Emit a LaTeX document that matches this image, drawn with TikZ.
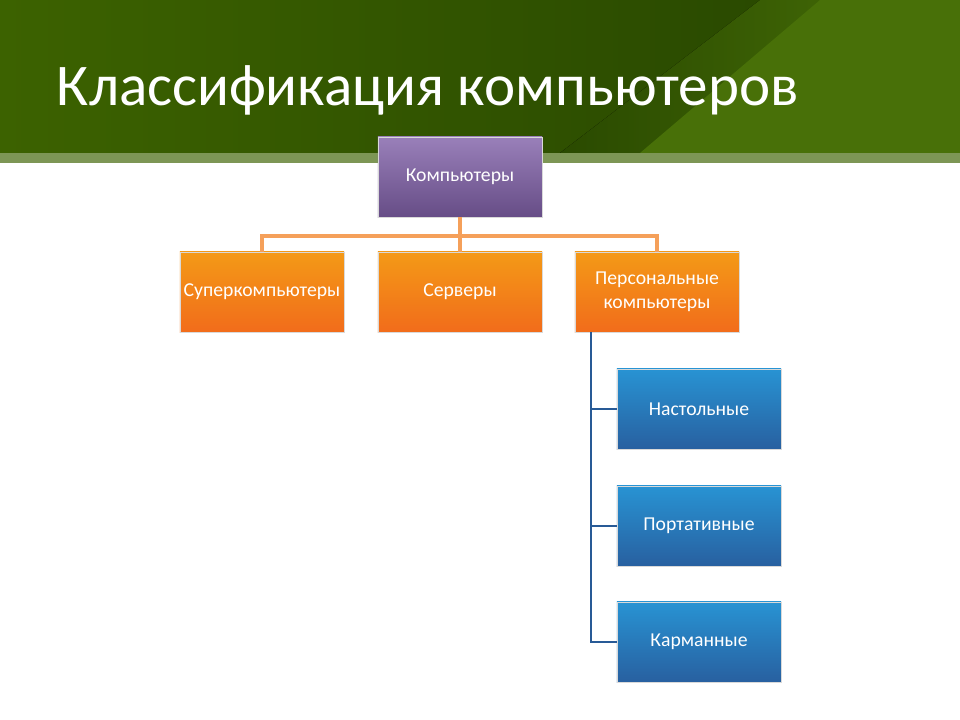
\documentclass[tikz,border=0pt]{standalone}
\usepackage{fontspec}
\setmainfont{Carlito}
\usetikzlibrary{positioning}

\definecolor{bandgreen}{RGB}{60,98,0}
\definecolor{darkgreen}{RGB}{42,74,0}
\definecolor{lightgreen}{RGB}{72,112,8}
\definecolor{stripe}{RGB}{125,150,85}
\definecolor{purplebox}{RGB}{128,96,168}
\definecolor{orangebox}{RGB}{240,120,30}
\definecolor{bluebox}{RGB}{50,120,200}
\definecolor{orangeline}{RGB}{245,160,90}
\definecolor{blueline}{RGB}{40,90,150}

\tikzset{
  box/.style={minimum width=4.1cm,minimum height=2cm,draw=white!85!black,line width=0.4pt,
    text=white,font=\fontsize{14}{17}\selectfont,align=center,inner sep=1pt},
  topbox/.style={box,top color=purplebox!80,bottom color=purplebox!80!black},
  pcbox/.style={box,top color=orangebox!75!yellow,bottom color=orangebox!90!red},
  kindbox/.style={box,top color=bluebox!80!cyan,bottom color=bluebox!80!black},
  orangelink/.style={draw=orangeline,line width=2.2pt},
  bluelink/.style={draw=blueline,line width=1.6pt}
}

\begin{document}
\begin{tikzpicture}[x=0.025cm,y=-0.025cm]
  \useasboundingbox (0,0) rectangle (960,720);

  % header band
  \fill[left color=bandgreen,right color=darkgreen] (0,0) rectangle (760,153);
  \fill[left color=darkgreen,right color=lightgreen] (760,0) -- (960,0) -- (960,153) -- (560,153) -- cycle;
  \fill[lightgreen] (820,0) -- (960,0) -- (960,153) -- (640,153) -- cycle;
  \fill[stripe] (0,153) rectangle (960,163);
  \node[anchor=west,text=white,font=\fontsize{42}{50}\selectfont] (title) at (52,90) {Классификация компьютеров};

  % boxes
  \node[topbox] (comp) at (460,177) {Компьютеры};
  \node[pcbox] (super) at (262,292) {Суперкомпьютеры};
  \node[pcbox] (serv) at (460,292) {Серверы};
  \node[pcbox] (pers) at (657,292) {Персональные\\компьютеры};
  \node[kindbox] (desk) at (699,409) {Настольные};
  \node[kindbox] (port) at (699,526) {Портативные};
  \node[kindbox] (pock) at (699,642) {Карманные};

  % links
  \coordinate (fork) at (460,236);
  \draw[orangelink] (comp.south) -- (fork);
  \draw[orangelink] (super.north) |- (fork) -| (pers.north);
  \draw[orangelink] (fork) -- (serv.north);
  \coordinate (trunk) at (591,332);
  \draw[bluelink] (trunk) |- (pock.west);
  \draw[bluelink] (trunk |- desk.west) -- (desk.west);
  \draw[bluelink] (trunk |- port.west) -- (port.west);
\end{tikzpicture}
\end{document}
